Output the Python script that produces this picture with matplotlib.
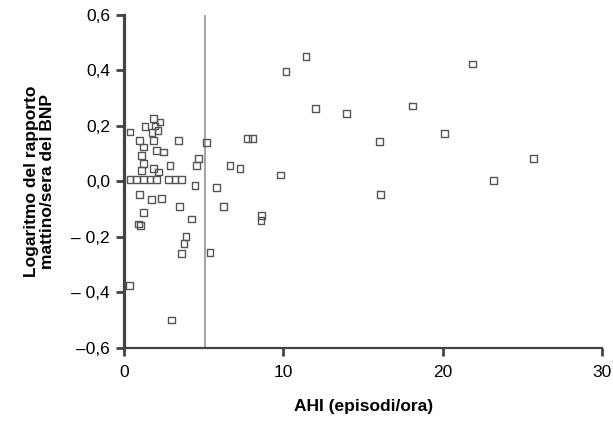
import matplotlib
matplotlib.use("Agg")
import matplotlib.pyplot as plt

plt.rcParams['font.family'] = ['Liberation Sans', 'DejaVu Sans']

# AHI (episodi/ora) vs log ratio mattino/sera BNP
ahi = [10.16, 11.42, 21.85, 12.0, 13.98, 18.08, 7.75, 8.05, 16.03, 20.09,
       25.69, 6.65, 7.28, 9.84, 23.18, 16.07, 8.64, 8.6, 6.23, 5.82,
       5.19, 5.39,
       1.84, 2.26, 1.32, 1.95, 1.76, 2.13, 0.38, 0.96, 1.84, 3.41,
       1.21, 2.05, 2.47, 4.66, 1.11, 2.89, 4.56, 1.21, 1.11, 1.84, 2.15,
       0.38, 0.8, 1.21, 1.63, 2.05, 2.78, 3.2, 3.62,
       4.46, 0.96, 1.74, 2.36, 3.48, 1.21, 4.25, 0.9, 1.05,
       3.89, 3.76, 3.62, 0.33, 2.99]
log_bnp = [0.396, 0.451, 0.423, 0.264, 0.245, 0.272, 0.155, 0.155, 0.144, 0.173,
           0.084, 0.058, 0.046, 0.023, 0.004, -0.048, -0.123, -0.141, -0.09, -0.023,
           0.14, -0.255,
           0.226, 0.214, 0.199, 0.2, 0.177, 0.184, 0.178, 0.148, 0.148, 0.148,
           0.124, 0.112, 0.106, 0.082, 0.094, 0.058, 0.058, 0.064, 0.04, 0.047, 0.034,
           0.006, 0.006, 0.006, 0.006, 0.006, 0.006, 0.006, 0.006,
           -0.014, -0.047, -0.066, -0.062, -0.09, -0.111, -0.135, -0.153, -0.16,
           -0.199, -0.223, -0.259, -0.375, -0.499]
yticks = [0.6, 0.4, 0.2, 0.0, -0.2, -0.4, -0.6]
ytick_labels = ['0,6', '0,4', '0,2', '0,0', '\u2013 0,2', '\u2013 0,4', '\u20130,6']
xticks = [0, 10, 20, 30]
cutoff = 5.1

fig = plt.figure(figsize=(6.13, 4.28), dpi=100)
ax = fig.add_axes([0.2023, 0.187, 0.78, 0.778])
ax.axvline(cutoff, color='#8a8a8a', lw=1.1, zorder=1)
ax.scatter(ahi, log_bnp, marker='s', s=24, facecolors='none',
           edgecolors='#555555', linewidths=1.0, zorder=3)

ax.set_xlim(0, 30)
ax.set_ylim(-0.6, 0.6)
ax.set_xticks(xticks)
ax.set_yticks(yticks)
ax.set_yticklabels(ytick_labels)
ax.spines['top'].set_visible(False)
ax.spines['right'].set_visible(False)
ax.spines['left'].set_linewidth(2.3)
ax.spines['bottom'].set_linewidth(1.6)
ax.spines['left'].set_color('#444444')
ax.spines['bottom'].set_color('#444444')
ax.tick_params(axis='y', direction='out', length=6, width=2, color='#444444',
               labelsize=12.5, pad=4)
ax.tick_params(axis='x', direction='out', length=6, width=2, color='#444444',
               labelsize=12.5, pad=6)

ax.set_xlabel('AHI (episodi/ora)', fontsize=12.5, fontweight='bold', labelpad=14)
ax.set_ylabel('Logaritmo del rapporto\nmattino/sera del BNP', fontsize=12.5,
              fontweight='bold', linespacing=1.05, labelpad=12)

fig.savefig('out.png', dpi=100)
